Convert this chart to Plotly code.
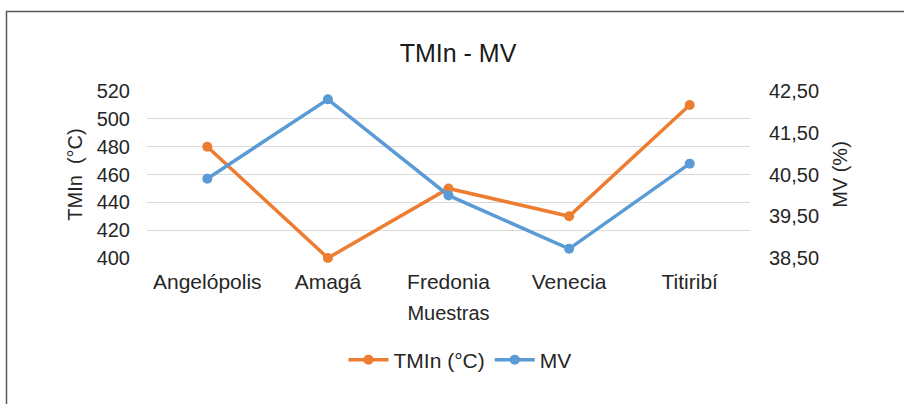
import plotly.graph_objects as go

categories = ["Angelópolis", "Amagá", "Fredonia", "Venecia", "Titiribí"]
tmin_values = [480, 400, 450, 430, 510]
mv_values = [40.40, 42.30, 40.00, 38.72, 40.76]
left_ticks = [400, 420, 440, 460, 480, 500, 520]
right_ticks = [38.5, 39.5, 40.5, 41.5, 42.5]

ORANGE = "#ED7D31"
BLUE = "#5B9BD5"
FONT = "Liberation Sans, Arial, sans-serif"

W, H = 904, 404
L, R, T, B = 147, 750, 91, 258

fig = go.Figure()
fig.add_trace(go.Scatter(
    x=categories, y=tmin_values, name="TMIn (°C)", mode="lines+markers",
    line=dict(color=ORANGE, width=3.5), marker=dict(size=10, color=ORANGE),
    cliponaxis=False, yaxis="y"))
fig.add_trace(go.Scatter(
    x=categories, y=mv_values, name="MV", mode="lines+markers",
    line=dict(color=BLUE, width=3.5), marker=dict(size=10, color=BLUE),
    cliponaxis=False, yaxis="y2"))

def px_x(p):
    return (p - L) / (R - L)

def px_y(p):
    return (B - p) / (B - T)

fig.update_layout(
    width=W, height=H,
    margin=dict(l=L, r=W - R, t=T, b=H - B, pad=0, autoexpand=False),
    paper_bgcolor="white", plot_bgcolor="white",
    separators=",.",
    font=dict(family=FONT, size=20, color="#262626"),
    title=dict(text="TMIn - MV", x=458 / W, xanchor="center", xref="container",
               y=1 - 53 / H, yanchor="middle", yref="container",
               font=dict(size=25, color="#1a1a1a")),
    xaxis=dict(type="category", range=[-0.5, 4.5], showgrid=False,
               showline=False, ticks="", zeroline=False, automargin=False,
               ticklabelstandoff=9, tickfont=dict(size=21),
               title=dict(text="Muestras", standoff=13, font=dict(size=20))),
    yaxis=dict(range=[400, 520], tickvals=left_ticks, showgrid=True,
               gridcolor="#d9d9d9", gridwidth=1, zeroline=False, showline=False,
               ticks="", ticklabelstandoff=16, automargin=False,
               title=dict(text="TMIn \u00a0(°C)", standoff=8, font=dict(size=20))),
    yaxis2=dict(range=[38.5, 42.5], tickvals=right_ticks, tickformat=".2f",
                overlaying="y", side="right", showgrid=False, zeroline=False,
                showline=False, ticks="", ticklabelstandoff=18, automargin=False,
                title=dict(text="MV (%)", standoff=14, font=dict(size=20))),
    showlegend=True,
    legend=dict(orientation="h", x=px_x(460), xanchor="center",
                y=px_y(360), yanchor="middle", font=dict(size=21),
                itemwidth=40, tracegroupgap=0, bgcolor="rgba(0,0,0,0)"),
    shapes=[dict(type="rect", xref="paper", yref="paper",
                 x0=px_x(6.5), x1=px_x(915), y0=px_y(11.5), y1=px_y(415),
                 line=dict(color="#595959", width=1.5), fillcolor="rgba(0,0,0,0)",
                 layer="below")],
)

fig.write_html("out.html", config={"displayModeBar": False},
               post_script="document.body.style.margin='0';document.body.style.overflow='hidden';")
